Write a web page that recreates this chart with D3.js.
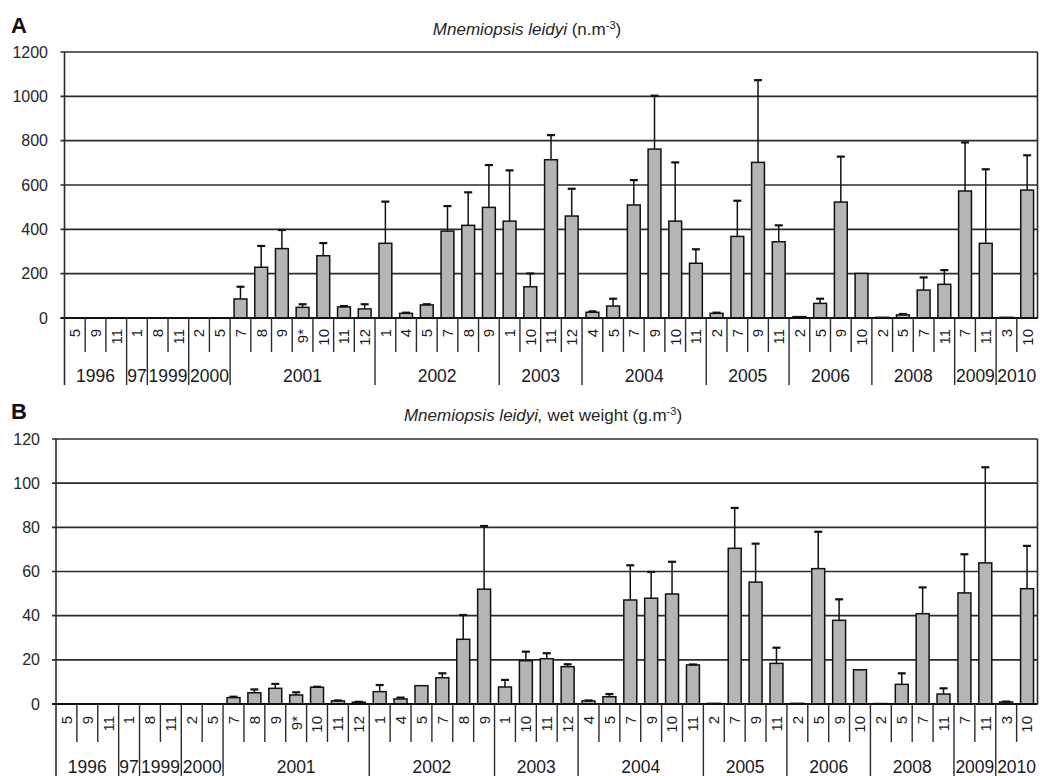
<!DOCTYPE html>
<html>
<head>
<meta charset="utf-8">
<script src="https://cdn.jsdelivr.net/npm/d3@7"></script>
<style>
  html, body { margin: 0; padding: 0; background: #fff; }
  svg { display: block; font-family: "Liberation Sans", Arial, sans-serif; }
</style>
</head>
<body>
<svg id="chart" width="1040" height="776"></svg>
<script>
// Sampling months, grouped by year
const months = ["5","9","11","1","8","11","2","5",
  "7","8","9","9*","10","11","12",
  "1","4","5","7","8","9",
  "1","10","11","12",
  "4","5","7","9","10","11",
  "2","7","9","11",
  "2","5","9","10",
  "2","5","7","11",
  "7","11",
  "3","10"];
const years = ["1996","97","1999","2000","2001","2002","2003","2004","2005","2006","2008","2009","2010"];
const yearCounts = [3,1,2,2,7,6,4,6,4,4,4,2,2];

// Panel A: abundance (n.m-3), mean and upper error
const abundance = [0,0,0,0,0,0,0,0,
  86,229,313,48,281,50,41,
  337,21,59,392,418,499,
  437,141,714,460,
  26,54,510,762,437,247,
  21,368,702,344,
  6,66,523,201,
  3,14,126,152,
  573,337,
  3,577];
const abundanceErr = [0,0,0,0,0,0,0,0,
  55,96,84,14,57,4,21,
  188,3,3,113,149,191,
  229,60,111,123,
  4,33,112,241,265,63,
  3,161,371,74,
  0,21,205,0,
  0,4,57,64,
  219,334,
  0,157];

// Panel B: wet weight (g.m-3), mean and upper error
const wetWeight = [0,0,0,0,0,0,0,0,
  2.9,5.1,7.1,4.1,7.6,1.4,0.8,
  5.6,2.3,8.3,11.9,29.3,52,
  7.7,19.6,20.5,16.9,
  1.4,3.3,47.1,47.9,49.8,17.7,
  0.3,70.5,55.2,18.4,
  0.3,61.3,37.9,15.5,
  0.2,8.9,40.9,4.5,
  50.3,63.9,
  0.9,52.2];
const wetWeightErr = [0,0,0,0,0,0,0,0,
  0.4,1.5,2.0,1.2,0.2,0.2,0.2,
  3.0,0.6,0,2.0,11.0,28.6,
  3.2,4.1,2.5,1.1,
  0.2,1.2,15.7,11.9,14.6,0.2,
  0,18.3,17.4,7.1,
  0,16.7,9.5,0,
  0,5.0,11.9,2.6,
  17.5,43.3,
  0.2,19.4];

const yTicksA = [0,200,400,600,800,1000,1200];
const yTicksB = [0,20,40,60,80,100,120];

const svg = d3.select("#chart");
const LINE = "#2b2b2b";
const BAR_FILL = "#b5b5b5";

// Year group boundaries as category indices
const yearStarts = [];
{ let s = 0; yearCounts.forEach(c => { yearStarts.push(s); s += c; }); }

function drawPanel(cfg) {
  const g = svg.append("g");
  const x = d3.scaleBand().domain(d3.range(months.length))
    .range([cfg.left, cfg.right]).paddingInner(0).paddingOuter(0);
  const y = d3.scaleLinear().domain([0, cfg.yMax]).range([cfg.zero, cfg.top]);
  const bw = x.bandwidth();

  // Horizontal gridlines with short ticks left of the axis
  g.append("g").selectAll("line").data(cfg.ticks).join("line")
    .attr("x1", cfg.left - 4).attr("x2", cfg.right)
    .attr("y1", d => y(d)).attr("y2", d => y(d))
    .attr("stroke", LINE).attr("stroke-width", 1.6);

  // Y tick labels
  g.append("g").selectAll("text").data(cfg.ticks).join("text")
    .attr("x", cfg.tickLabelX).attr("y", d => y(d))
    .attr("text-anchor", "end").attr("dominant-baseline", "central")
    .attr("font-size", 16).attr("fill", "#262626")
    .text(d => d);

  // Right border of the plot area
  g.append("line")
    .attr("x1", cfg.right).attr("x2", cfg.right)
    .attr("y1", y(cfg.yMax)).attr("y2", y(0))
    .attr("stroke", LINE).attr("stroke-width", 1.6);

  // Bars
  const idx = d3.range(months.length).filter(i => cfg.values[i] > 0);
  g.append("g").selectAll("rect").data(idx).join("rect")
    .attr("x", i => x(i) + bw * 0.19)
    .attr("width", bw * 0.62)
    .attr("y", i => y(cfg.values[i]))
    .attr("height", i => y(0) - y(cfg.values[i]))
    .attr("fill", BAR_FILL).attr("stroke", "#111").attr("stroke-width", 1.5);

  // Upper error bars
  const eIdx = idx.filter(i => cfg.errors[i] > 0);
  const eg = g.append("g").attr("stroke", "#111").attr("stroke-width", 1.5);
  eg.selectAll("line.v").data(eIdx).join("line").attr("class", "v")
    .attr("x1", i => x(i) + bw / 2).attr("x2", i => x(i) + bw / 2)
    .attr("y1", i => y(cfg.values[i])).attr("y2", i => y(cfg.values[i] + cfg.errors[i]));
  eg.selectAll("line.c").data(eIdx).join("line").attr("class", "c")
    .attr("x1", i => x(i) + bw / 2 - 4).attr("x2", i => x(i) + bw / 2 + 4)
    .attr("y1", i => y(cfg.values[i] + cfg.errors[i]))
    .attr("y2", i => y(cfg.values[i] + cfg.errors[i]))
    .attr("stroke-width", 2.2);

  // Category axis: baseline at zero
  g.append("line")
    .attr("x1", cfg.left - 4).attr("x2", cfg.right)
    .attr("y1", y(0)).attr("y2", y(0))
    .attr("stroke", "#111").attr("stroke-width", 1.8);

  // Left axis running down through the year row
  g.append("line")
    .attr("x1", cfg.left).attr("x2", cfg.left)
    .attr("y1", y(cfg.yMax)).attr("y2", cfg.yearSepEnd)
    .attr("stroke", LINE).attr("stroke-width", 1.6);

  // Month separators (short) and year separators (long)
  const bounds = d3.range(1, months.length);
  const yearBounds = new Set(yearStarts);
  g.append("g").selectAll("line").data(bounds).join("line")
    .attr("x1", i => x(i)).attr("x2", i => x(i))
    .attr("y1", y(0))
    .attr("y2", i => yearBounds.has(i) ? cfg.yearSepEnd : cfg.monthSepEnd)
    .attr("stroke", LINE).attr("stroke-width", 1.4);

  // Month labels, turned to read bottom-to-top
  const ml = g.append("g").selectAll("g").data(d3.range(months.length)).join("g")
    .attr("transform", i => "translate(" + (x(i) + bw / 2) + "," + cfg.monthLabelTop + ")");
  ml.append("text")
    .attr("transform", "rotate(-90)")
    .attr("x", 0).attr("y", 0)
    .attr("text-anchor", "end").attr("dy", "0.36em")
    .attr("font-size", 15).attr("fill", "#1a1a1a")
    .text(i => months[i]);

  // Year labels centred under their groups
  g.append("g").selectAll("text").data(years).join("text")
    .attr("x", (d, k) => {
      const a = x(yearStarts[k]);
      const b = x(yearStarts[k] + yearCounts[k] - 1) + bw;
      return (a + b) / 2;
    })
    .attr("y", cfg.yearLabelY)
    .attr("text-anchor", "middle")
    .attr("font-size", 17.5).attr("fill", "#1a1a1a")
    .text(d => d);

  // Panel letter
  svg.append("text")
    .attr("x", 11).attr("y", cfg.letterY)
    .attr("font-size", 22).attr("font-weight", "bold").attr("fill", "#111")
    .text(cfg.letter);

  // Panel title with italic species name and superscript unit
  const t = svg.append("text")
    .attr("x", cfg.titleX).attr("y", cfg.titleY)
    .attr("text-anchor", "middle").attr("font-size", 17).attr("fill", "#262626");
  t.append("tspan").attr("font-style", "italic").text(cfg.species);
  t.append("tspan").text(cfg.unitPre);
  t.append("tspan").attr("font-size", 11).attr("dy", -6).text("-3");
  t.append("tspan").attr("dy", 6).text(")");
}

drawPanel({
  left: 64.5, right: 1037.5, top: 52, zero: 318, yMax: 1200, ticks: yTicksA,
  values: abundance, errors: abundanceErr,
  tickLabelX: 48, monthSepEnd: 352, yearSepEnd: 385,
  monthLabelTop: 329, yearLabelY: 382,
  letter: "A", letterY: 33,
  species: "Mnemiopsis leidyi", unitPre: " (n.m",
  titleX: 527, titleY: 35
});

drawPanel({
  left: 56, right: 1037.5, top: 439, zero: 704, yMax: 120, ticks: yTicksB,
  values: wetWeight, errors: wetWeightErr,
  tickLabelX: 40, monthSepEnd: 742, yearSepEnd: 776,
  monthLabelTop: 716, yearLabelY: 773,
  letter: "B", letterY: 419,
  species: "Mnemiopsis leidyi,", unitPre: " wet weight (g.m",
  titleX: 543, titleY: 421
});
</script>
</body>
</html>
